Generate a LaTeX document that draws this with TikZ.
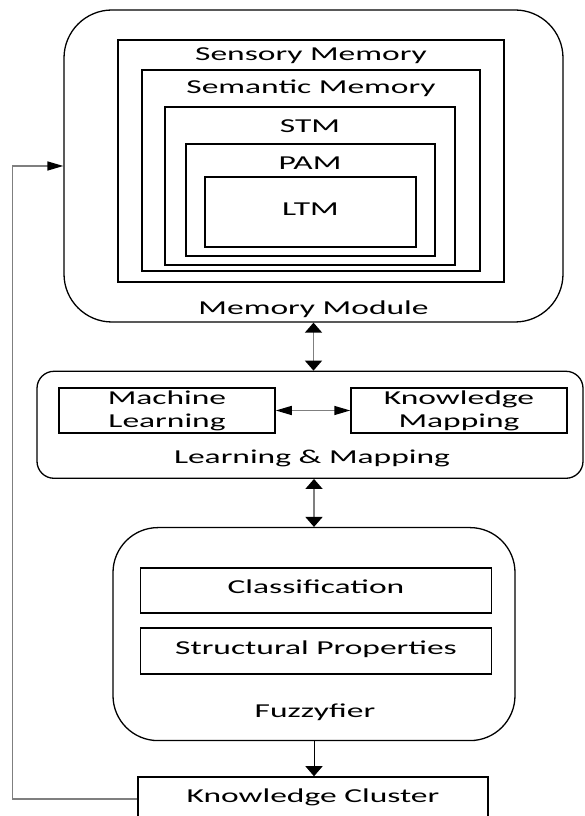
\documentclass[tikz,border=0pt]{standalone}
\usepackage{fontspec}
\setmainfont{Carlito}[FakeStretch=1.7]
\usetikzlibrary{positioning}
\usetikzlibrary{arrows.meta}
\definecolor{linkgray}{HTML}{7F7F7F}
\tikzset{x=1pt, y=1pt,
  every node/.style={align=center,
    font=\fontsize{19.7}{23}\selectfont},
  module/.style={ % Rounded outer modules
    draw, line width=1.3pt, inner sep=0pt},
  memorybox/.style={ % Nested memory boxes
    draw, line width=1.5pt, inner sep=0pt},
  block/.style={ % Boxes with one line of text
    draw, line width=1.5pt, inner sep=0pt,
    text height=0.64em, text depth=0pt},
  vlink/.style={ % Vertical two-way links
    draw=linkgray, line width=1.5pt,
    {Triangle[length=10pt,width=17pt,color=black]}-{Triangle[length=10pt,width=17pt,color=black]}},
  hlink/.style={ % Horizontal two-way link
    draw=linkgray, line width=1.5pt,
    {Triangle[length=16pt,width=9pt,color=black]}-{Triangle[length=16pt,width=9pt,color=black]}},
  feedback/.style={
    draw=linkgray, line width=1.5pt,
    -{Triangle[length=16pt,width=9pt,color=black]}}}

\begin{document}
\begin{tikzpicture}
  \useasboundingbox (0,0) rectangle (584,816);

  % Memory module and its nested boxes
  \node [module, rounded corners=48pt, minimum width=499pt, minimum height=312pt] (memory) at (313.5,650) {};
  \node [memorybox, minimum width=386pt, minimum height=242pt] (sensory) at (311,655) {};
  \node [memorybox, minimum width=338pt, minimum height=201pt] (semantic) at (311,645.5) {};
  \node [memorybox, minimum width=290pt, minimum height=158pt] (stm) at (310,630) {};
  \node [memorybox, minimum width=249pt, minimum height=112pt] (pam) at (310.5,616) {};
  \node [block, minimum width=211pt, minimum height=70pt] (ltm) at (310.5,604) {LTM};

  \node [anchor=base] (sensorytext) at (311,755) {Sensory Memory};
  \node [anchor=base] (semantictext) at (311,722) {Semantic Memory};
  \node [anchor=base] (stmtext) at (310,683) {STM};
  \node [anchor=base] (pamtext) at (310,646) {PAM};
  \node [anchor=base] (memorytext) at (313.5,501) {Memory Module};

  % Learning & Mapping
  \node [module, rounded corners=17pt, minimum width=546pt, minimum height=107pt,
         below=48pt of memory, xshift=-3.5pt] (learning) {};
  \node [memorybox, minimum width=216pt, minimum height=45pt] (machine) at (167,405.5) {Machine\\Learning};
  \node [memorybox, minimum width=216pt, minimum height=45pt] (mapping) at (459,405.5) {Knowledge\\Mapping};
  \node [anchor=base] (learningtext) at (312,352) {Learning \& Mapping};

  % Fuzzyfier
  \node [module, rounded corners=45pt, minimum width=402pt, minimum height=213pt,
         below=48pt of learning, xshift=4pt] (fuzzy) {};
  \node [block, minimum width=351pt, minimum height=45pt] (classif) at (316,225.5) {Classification};
  \node [block, minimum width=351pt, minimum height=46pt] (struct) at (316,165) {Structural Properties};
  \node [anchor=base] (fuzzytext) at (315,98) {Fuzzyfier};

  \node [block, minimum width=350pt, minimum height=44pt,
         below=35pt of fuzzy, xshift=-1pt] (cluster) {Knowledge Cluster};

  \draw [vlink] (memory.south) -- (memory.south |- learning.north);
  \draw [hlink] (machine.east) -- (mapping.west);
  \draw [vlink] (fuzzy.north |- learning.south) -- (fuzzy.north);
  \draw [line width=0.8pt, -{Triangle[length=10pt,width=17pt]}] (fuzzy.south) -- (fuzzy.south |- cluster.north);
  \draw [feedback] (cluster.west) -- ++(-125,0) |- (memory.west);
\end{tikzpicture}
\end{document}
